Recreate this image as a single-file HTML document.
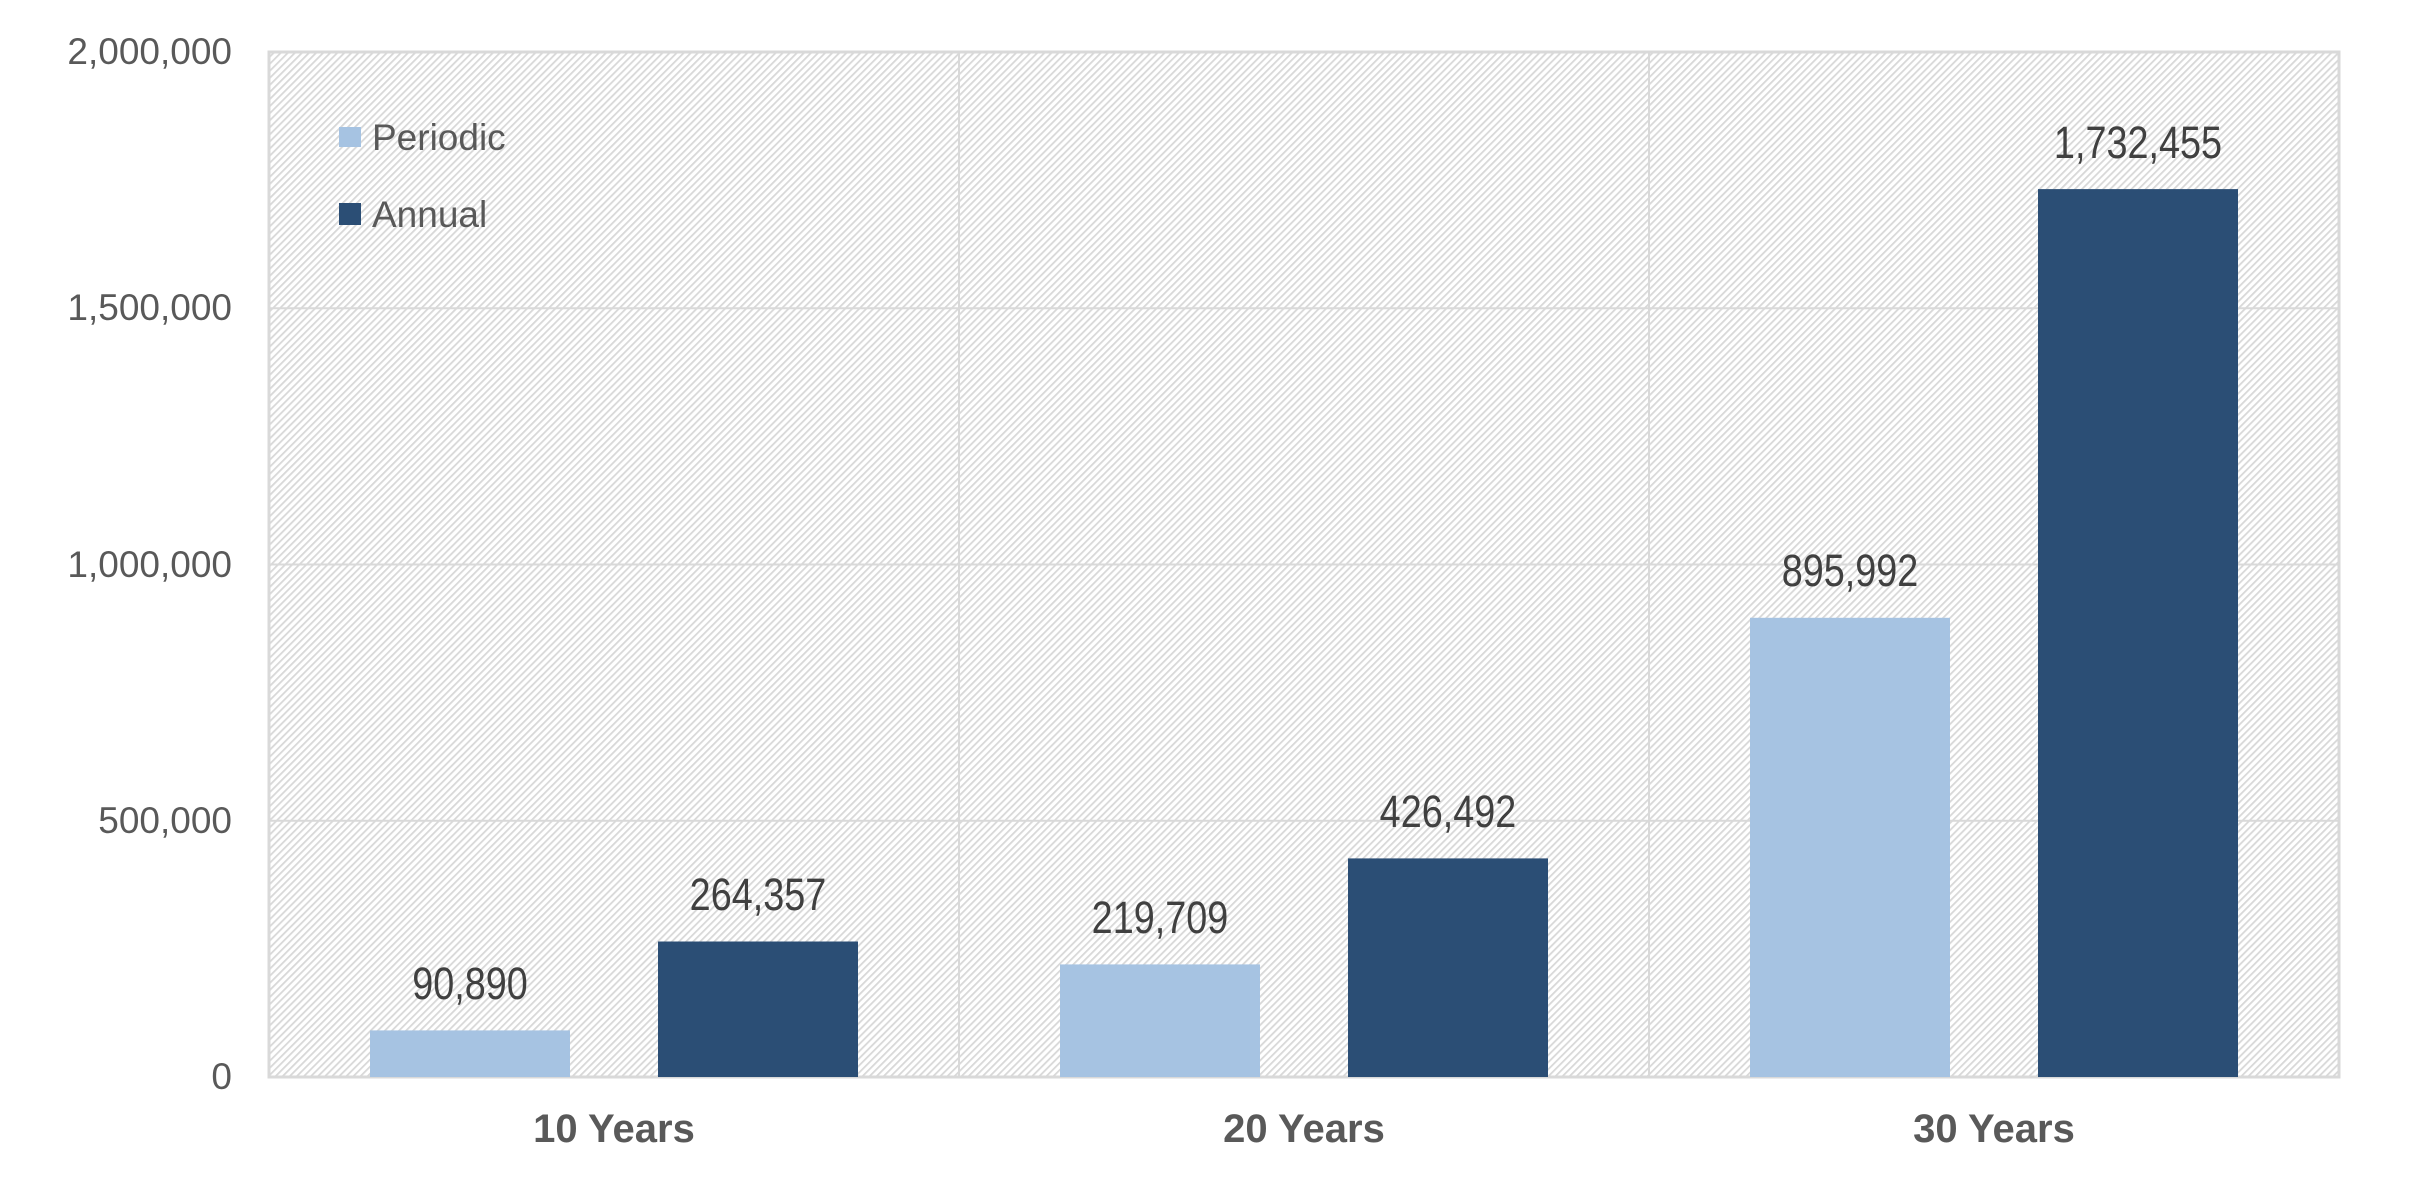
<!DOCTYPE html>
<html><head><meta charset="utf-8"><style>
html,body{margin:0;padding:0;background:#fff;}
svg{display:block}
</style></head><body>
<svg width="2418" height="1184" viewBox="0 0 2418 1184" xmlns="http://www.w3.org/2000/svg">
<defs>
<pattern id="h" patternUnits="userSpaceOnUse" width="5" height="5" patternTransform="rotate(45)">
<rect width="5" height="5" fill="#ffffff"/>
<rect width="1.8" height="5" fill="#d8d8d8"/>
</pattern>
</defs>
<rect x="269" y="52" width="2070" height="1025" fill="url(#h)"/>
<g stroke="#d9d9d9" stroke-width="2">
<line x1="269" y1="820.75" x2="2339" y2="820.75"/>
<line x1="269" y1="564.5" x2="2339" y2="564.5"/>
<line x1="269" y1="308.25" x2="2339" y2="308.25"/>
<line x1="959" y1="52" x2="959" y2="1077"/>
<line x1="1649" y1="52" x2="1649" y2="1077"/>
</g>
<rect x="269" y="52" width="2070" height="1025" fill="none" stroke="#d9d9d9" stroke-width="3"/>
<g font-family="Liberation Sans, sans-serif" font-size="37" fill="#595959" text-anchor="end">
<text x="232" y="64">2,000,000</text>
<text x="232" y="320">1,500,000</text>
<text x="232" y="577">1,000,000</text>
<text x="232" y="833">500,000</text>
<text x="232" y="1089">0</text>
</g>
<g>
<rect x="370" y="1030.4" width="200" height="46.6" fill="#a6c3e2"/>
<rect x="658" y="941.5" width="200" height="135.5" fill="#2b4e75"/>
<rect x="1060" y="964.4" width="200" height="112.6" fill="#a6c3e2"/>
<rect x="1348" y="858.4" width="200" height="218.6" fill="#2b4e75"/>
<rect x="1750" y="617.8" width="200" height="459.2" fill="#a6c3e2"/>
<rect x="2038" y="189.1" width="200" height="887.9" fill="#2b4e75"/>
</g>
<g font-family="Liberation Sans, sans-serif" font-size="45" fill="#404040" text-anchor="middle">
<text x="470" y="999" transform="translate(470 0) scale(0.84 1) translate(-470 0)">90,890</text>
<text x="758" y="910" transform="translate(758 0) scale(0.84 1) translate(-758 0)">264,357</text>
<text x="1160" y="933" transform="translate(1160 0) scale(0.84 1) translate(-1160 0)">219,709</text>
<text x="1448" y="827" transform="translate(1448 0) scale(0.84 1) translate(-1448 0)">426,492</text>
<text x="1850" y="586" transform="translate(1850 0) scale(0.84 1) translate(-1850 0)">895,992</text>
<text x="2138" y="158" transform="translate(2138 0) scale(0.84 1) translate(-2138 0)">1,732,455</text>
</g>
<g font-family="Liberation Sans, sans-serif" font-size="40" font-weight="bold" fill="#595959" text-anchor="middle">
<text x="614" y="1142">10 Years</text>
<text x="1304" y="1142">20 Years</text>
<text x="1994" y="1142">30 Years</text>
</g>
<rect x="339" y="127" width="22" height="20" fill="#a6c3e2"/>
<rect x="339" y="203" width="22" height="22" fill="#2b4e75"/>
<g font-family="Liberation Sans, sans-serif" font-size="37" fill="#595959">
<text x="372" y="150">Periodic</text>
<text x="372" y="227">Annual</text>
</g>
</svg>
</body></html>
